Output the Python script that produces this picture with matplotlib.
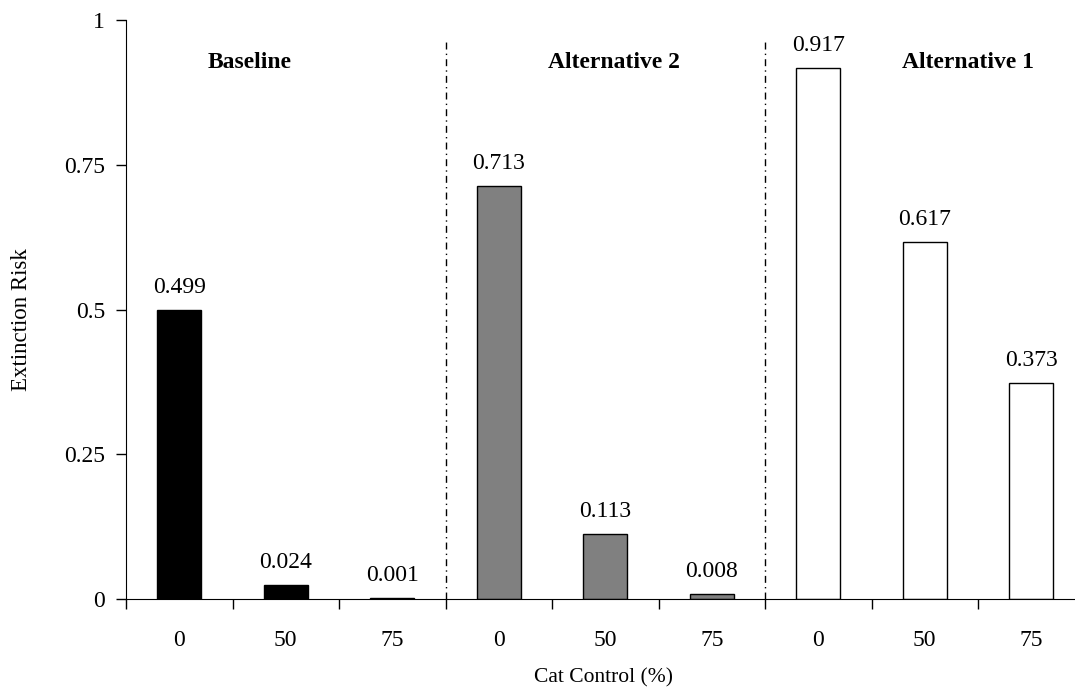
import numpy as np
import matplotlib
matplotlib.use("Agg")
import matplotlib.pyplot as plt

plt.rcParams["font.family"] = ["Liberation Serif", "DejaVu Serif"]

# data
groups = ["Baseline", "Alternative 2", "Alternative 1"]
control = ["0", "50", "75"]
baseline = [0.499, 0.024, 0.001]
alt2 = [0.713, 0.113, 0.008]
alt1 = [0.917, 0.617, 0.373]
colors = ["black", "#808080", "white"]

series = [baseline, alt2, alt1]

fig = plt.figure(figsize=(10.75, 6.89), dpi=100)
# axis runs a bit past the right edge, like in the original
ax = fig.add_axes([126 / 1075, 90 / 689, 958.5 / 1075, 579 / 689])

x = np.arange(9)
vals = [v for s in series for v in s]
cols = [c for c in colors for _ in control]
ax.bar(x + 0.5, vals, width=0.41, color=cols, edgecolor="black", linewidth=1)

for xi, v in zip(x, vals):
    ax.annotate(f"{v:.3f}", (xi + 0.5, v), xytext=(0, 12.2), textcoords="offset points",
                ha="center", va="baseline", fontsize=17)

# dash-dot separators between groups
for b in [3, 6]:
    ax.plot([b, b], [0, 0.965], color="black", lw=1, ls=(0, (5, 3, 1, 3)))

# group titles
for gx, name in zip([0.66, 4.08, 7.41], groups):
    ax.text(gx + 0.5, 0.926, name, ha="center", va="center", fontsize=17, fontweight="bold")

ax.set_xlim(0, 9)
ax.set_ylim(0, 1)
ax.set_xticks(np.arange(0, 10))
ax.set_xticklabels([])
ax.set_xticks(x + 0.5, minor=True)
ax.set_xticklabels(control * 3, minor=True, fontsize=17)
ax.tick_params(axis="x", which="major", direction="out", length=7, width=1)
ax.tick_params(axis="x", which="minor", length=0, pad=22.5)

ax.set_yticks([0, 0.25, 0.5, 0.75, 1])
ax.set_yticklabels(["0", "0.25", "0.5", "0.75", "1"], fontsize=17)
ax.tick_params(axis="y", direction="out", length=7, width=1, pad=8)

ax.spines["top"].set_visible(False)
ax.spines["right"].set_visible(False)
ax.spines["left"].set_clip_on(False)

fig.text(22 / 1075, 1 - 320 / 689, "Extinction Risk", rotation=90,
         ha="center", va="center", fontsize=16.5)
fig.text(603 / 1075, 1 - 678 / 689, "Cat Control (%)", ha="center", va="center", fontsize=15.5)

fig.savefig("out.png", dpi=100)
